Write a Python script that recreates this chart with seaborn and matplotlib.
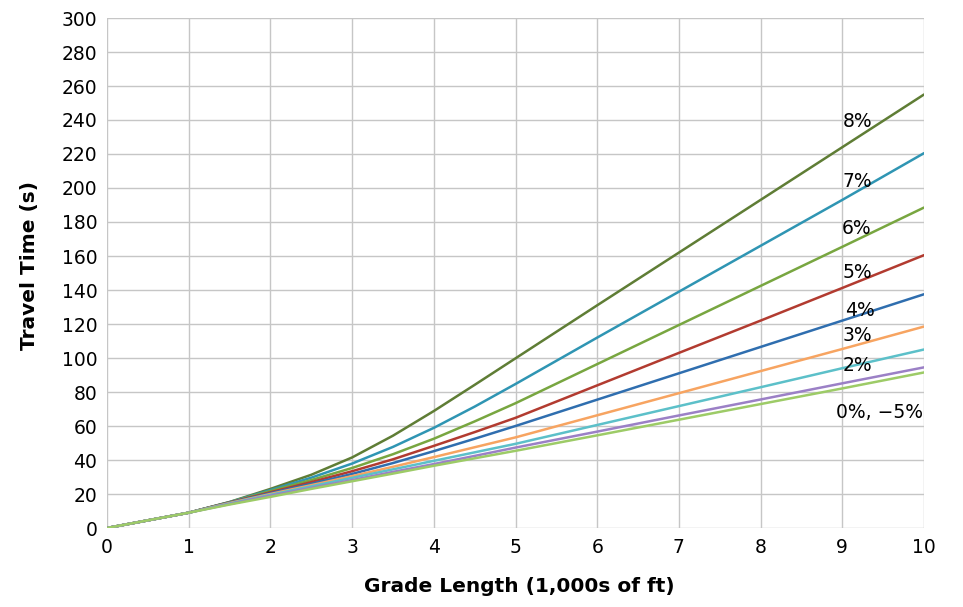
import matplotlib
matplotlib.use("Agg")
import matplotlib.pyplot as plt
import seaborn as sns
import pandas as pd

# Grade length (1,000s of ft)
x_vals = [0, 1, 1.5, 2, 2.5, 3, 3.5, 4, 4.5, 5, 6, 7, 8, 9, 10]

g8 = [0, 9, 15.3, 23.0, 31.3, 41.5, 54.3, 68.8, 84.2, 99.8, 131, 162, 193, 224, 255]
g7 = [0, 9, 15.2, 22.3, 29.6, 37.9, 47.7, 58.9, 71.4, 84.7, 112, 139, 166, 193, 220.5]
g6 = [0, 9, 15.1, 21.7, 28.2, 35.3, 43.4, 52.5, 62.7, 73.4, 96.4, 119.4, 142.4, 165.4, 188.5]
g5 = [0, 9, 15.0, 21.0, 27.0, 33.4, 40.4, 48.3, 56.4, 64.8, 83.9, 103, 122, 141.2, 160.5]
g4 = [0, 9, 14.9, 20.5, 26.0, 31.8, 38.2, 45.2, 52.5, 60.0, 75.5, 91, 106.5, 122, 137.5]
g3 = [0, 9, 14.7, 20.0, 25.2, 30.5, 36.0, 41.7, 47.5, 53.3, 66.3, 79.3, 92.3, 105.3, 118.5]
g2 = [0, 9, 14.4, 19.5, 24.5, 29.5, 34.5, 39.5, 44.5, 49.5, 60.6, 71.7, 82.8, 94.0, 105]
g0 = [0, 9, 14.1, 19.0, 23.6, 28.2, 33.0, 37.6, 42.4, 47.3, 56.7, 66.2, 75.6, 85.1, 94.5]
gm5 = [0, 9, 13.8, 18.3, 23.0, 27.5, 32.0, 36.6, 41.0, 45.4, 54.5, 63.7, 72.9, 82.1, 91.5]

series_names = ["8%", "7%", "6%", "5%", "4%", "3%", "2%", "0%", "-5%"]
series_values = [g8, g7, g6, g5, g4, g3, g2, g0, gm5]
colors = ["#5f7d35", "#2f95b3", "#78a640", "#b23b30", "#2f6eaf",
          "#f7a461", "#5cc0c9", "#9b80c6", "#9dcb67"]

x_ticks = list(range(0, 11))
y_ticks = list(range(0, 301, 20))

# line labels (text, x, y)
label_texts = ["8%", "7%", "6%", "5%", "4%", "3%", "2%", "0%, \u22125%"]
label_x = [9.19, 9.18, 9.18, 9.18, 9.22, 9.19, 9.19, 9.46]
label_y = [239, 204, 176, 150.5, 128, 113, 95.5, 68]

rows = []
for name, vals in zip(series_names, series_values):
    for xv, yv in zip(x_vals, vals):
        rows.append({"x": xv, "y": yv, "grade": name})
df = pd.DataFrame(rows)

sns.set_theme(style="white")
plt.rcParams["font.family"] = ["DejaVu Sans"]
plt.rcParams["text.color"] = "black"
plt.rcParams["axes.labelcolor"] = "black"

fig = plt.figure(figsize=(9.63, 6.07), dpi=100)
ax = fig.add_axes([107 / 963, 79 / 607, 817 / 963, 510 / 607])

sns.lineplot(data=df, x="x", y="y", hue="grade", hue_order=series_names,
             palette=colors, linewidth=1.8, legend=False, ax=ax, zorder=3)

ax.set_xlim(0, 10)
ax.set_ylim(0, 300)
ax.set_xticks(x_ticks)
ax.set_yticks(y_ticks)
ax.grid(True, color="#c6c6c6", linewidth=1.0)
ax.set_axisbelow(True)
for s in ax.spines.values():
    s.set_visible(False)
ax.tick_params(axis="both", length=0, labelsize=13.5, colors="black", pad=7)

ax.set_xlabel("Grade Length (1,000s of ft)", fontsize=14.5, fontweight="bold", color="black")
ax.set_ylabel("Travel Time (s)", fontsize=14.5, fontweight="bold", color="black")
ax.xaxis.set_label_coords(0.505, -0.097)
ax.yaxis.set_label_coords(-0.083, 0.515)

for t, lx, ly in zip(label_texts, label_x, label_y):
    ax.text(lx, ly, t, fontsize=13.5, ha="center", va="center", color="black", zorder=4)

fig.savefig("out.png", dpi=100)
